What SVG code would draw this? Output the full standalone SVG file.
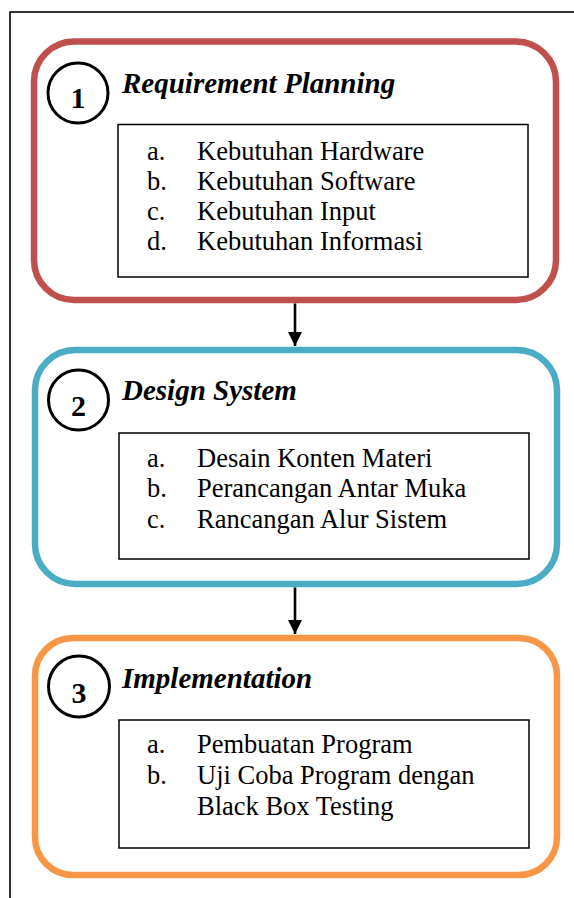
<svg xmlns="http://www.w3.org/2000/svg" width="574" height="898" viewBox="0 0 574 898">
<defs>
<style>
.frame{fill:none;stroke:#000;stroke-width:1.6}
.phase{fill:#fff;stroke-width:6.5}
.inner{fill:#fff;stroke:#000;stroke-width:1.5}
.circ{fill:#fff;stroke:#000;stroke-width:3}
.num{font-family:"Liberation Serif",serif;font-weight:bold;font-size:30px;text-anchor:middle;fill:#000}
.title{font-family:"Liberation Serif",serif;font-weight:bold;font-style:italic;font-size:29px;fill:#000}
.item{font-family:"Liberation Serif",serif;font-size:26.5px;fill:#000}
.conn{stroke:#000;stroke-width:2.6;fill:none}
</style>
<marker id="ah" markerUnits="userSpaceOnUse" markerWidth="16" markerHeight="16" refX="14" refY="7" orient="auto">
<path d="M0,0 L14,7 L0,14 Z" fill="#000"/>
</marker>
</defs>
<rect width="574" height="898" fill="#fff"/>
<rect class="frame" x="10" y="12" width="620" height="940"/>

<g id="node1">
<rect class="phase" x="34" y="41.5" width="522" height="258.5" rx="40" ry="40" stroke="#C0504D"/>
<circle class="circ" cx="78" cy="93" r="30"/>
<text class="num" x="78" y="107.5">1</text>
<text class="title" x="122" y="93">Requirement Planning</text>
<rect class="inner" x="118" y="124.5" width="410" height="152.5"/>
<text class="item" x="147" y="160">a.</text><text class="item" x="197" y="160">Kebutuhan Hardware</text>
<text class="item" x="147" y="190">b.</text><text class="item" x="197" y="190">Kebutuhan Software</text>
<text class="item" x="147" y="220">c.</text><text class="item" x="197" y="220">Kebutuhan Input</text>
<text class="item" x="147" y="250">d.</text><text class="item" x="197" y="250">Kebutuhan Informasi</text>
</g>

<g id="node2">
<rect class="phase" x="35" y="350" width="522" height="234" rx="40" ry="40" stroke="#4BACC6"/>
<circle class="circ" cx="78.5" cy="400" r="30"/>
<text class="num" x="78.5" y="415.5">2</text>
<text class="title" x="122" y="400">Design System</text>
<rect class="inner" x="119" y="433" width="410" height="126"/>
<text class="item" x="147" y="467">a.</text><text class="item" x="197" y="467">Desain Konten Materi</text>
<text class="item" x="147" y="497">b.</text><text class="item" x="197" y="497">Perancangan Antar Muka</text>
<text class="item" x="147" y="528">c.</text><text class="item" x="197" y="528">Rancangan Alur Sistem</text>
</g>

<g id="node3">
<rect class="phase" x="35" y="638" width="522" height="237" rx="38" ry="38" stroke="#F79646"/>
<circle class="circ" cx="79" cy="686.5" r="30.5"/>
<text class="num" x="79" y="702.5">3</text>
<text class="title" x="122" y="688">Implementation</text>
<rect class="inner" x="119" y="720" width="410" height="128"/>
<text class="item" x="147" y="753">a.</text><text class="item" x="197" y="753">Pembuatan Program</text>
<text class="item" x="147" y="784">b.</text><text class="item" x="197" y="784">Uji Coba Program dengan</text>
<text class="item" x="197" y="815">Black Box Testing</text>
</g>

<g id="connectors">
<line class="conn" x1="295" y1="303.5" x2="295" y2="346" marker-end="url(#ah)"/>
<line class="conn" x1="295" y1="587.5" x2="295" y2="634" marker-end="url(#ah)"/>
</g>
</svg>
